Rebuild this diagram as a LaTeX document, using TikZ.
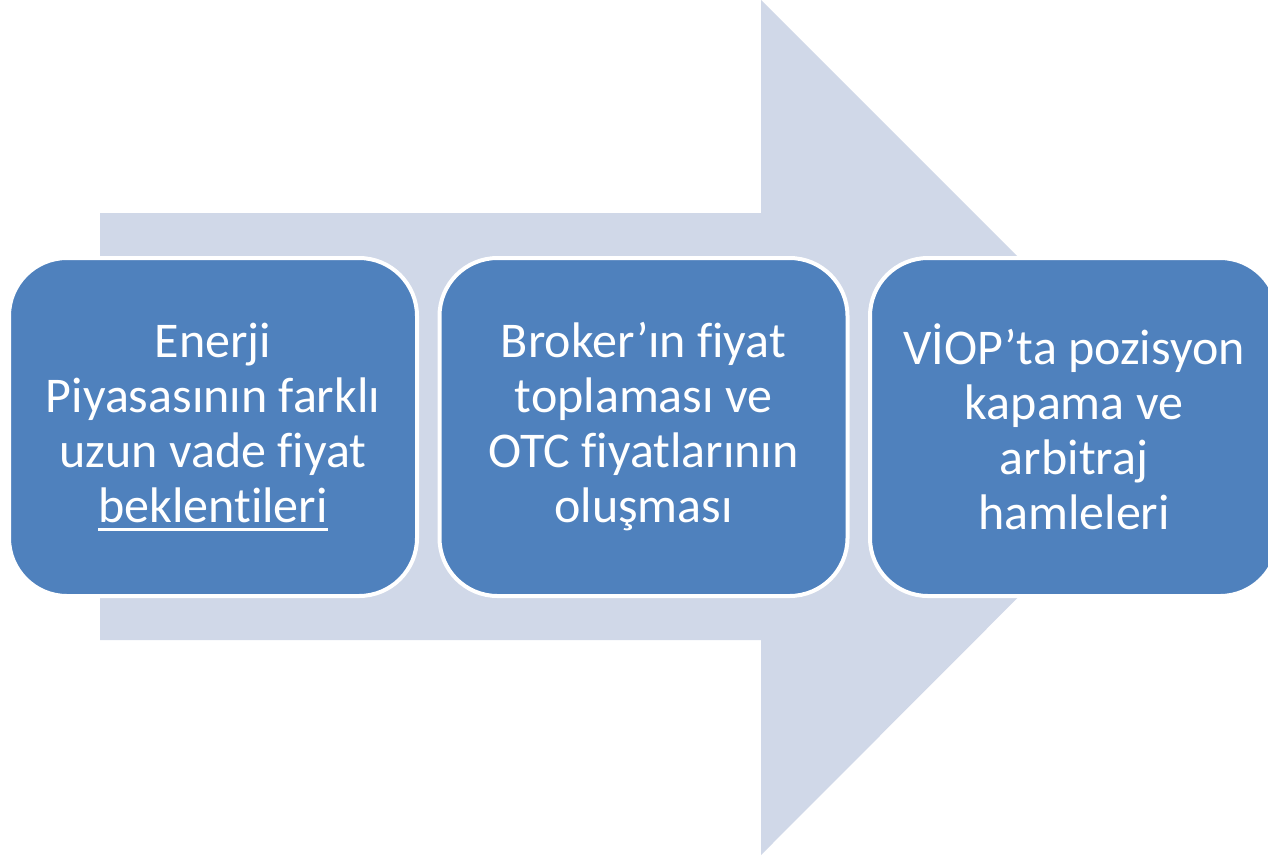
\documentclass[tikz,border=0pt]{standalone}
\usepackage{fontspec}
\setmainfont[Ligatures=NoCommon]{Carlito}
\definecolor{boxblue}{HTML}{4F81BD}
\definecolor{arrowgrey}{HTML}{D0D8E8}
\newcommand\myul[1]{\setbox0\hbox{#1}\rlap{\rule[-8pt]{\wd0}{2.5pt}}\box0}
\tikzset{
  stepbox/.style={draw=white, line width=4pt, fill=boxblue, rounded corners=58pt,
    minimum width=408pt, minimum height=338pt, text=white, align=center,
    font=\fontsize{50}{55}\selectfont, inner sep=0pt},
  bigarrow/.style={fill=arrowgrey, draw=none}
}
\begin{document}
\begin{tikzpicture}[x=1pt,y=-1pt]
\useasboundingbox (0,0) rectangle (1268,855);
\clip (0,0) rectangle (1268,855);
\fill[white] (0,0) rectangle (1268,855);
\path[bigarrow] (100,213) -- (761,213) -- (761,0) -- (1188,427) -- (761,855) -- (761,640) -- (100,640) -- cycle;
\node[stepbox] (b1) at (213,427) {Enerji\\Piyasasının farklı\\uzun vade fiyat\\\myul{beklentileri}};
\node[stepbox] (b2) at (643.5,427) {Broker’ın fiyat\\toplaması ve\\OTC fiyatlarının\\oluşması};
\node[stepbox] (b3) at (1074,427) {VİOP’ta pozisyon\\kapama ve\\arbitraj\\hamleleri};
\end{tikzpicture}
\end{document}
